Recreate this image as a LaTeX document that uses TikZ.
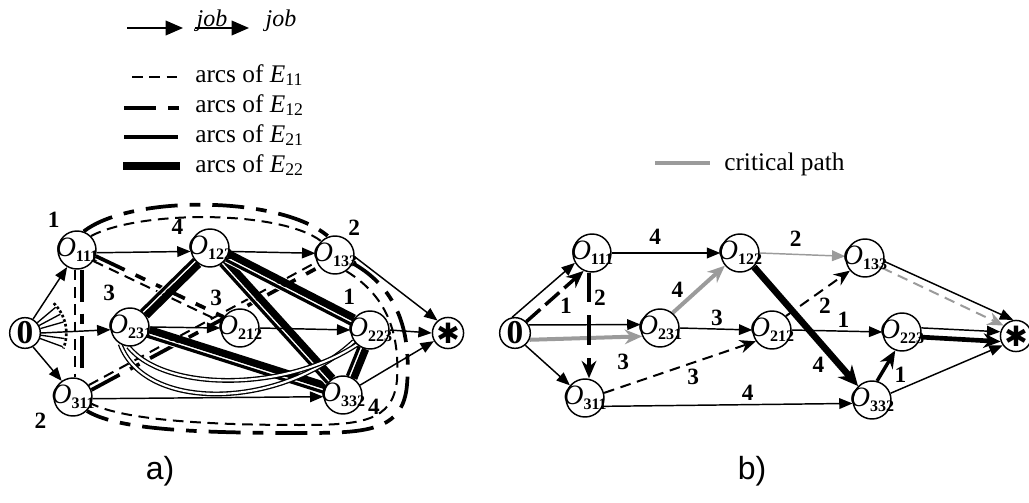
\documentclass[tikz,border=0pt]{standalone}
\usepackage{fontspec}
\setmainfont{Liberation Serif}
\newfontfamily\capfont{Liberation Sans}
\newfontfamily\symfont{DejaVu Sans}
\usetikzlibrary{arrows.meta,positioning}
\definecolor{crit}{HTML}{9B9B9B}
\pgfdeclarelayer{edges}
\pgfsetlayers{edges,main}
\newcommand{\opn}[1]{\makebox[0pt]{\fontsize{21}{21}\selectfont\textit{O}\raisebox{-3.5pt}{\fontsize{12}{12}\selectfont\bfseries #1}}}

\begin{document}
\begin{tikzpicture}[x=0.75pt, y=-0.75pt, font=\fontsize{16}{18}\selectfont,
  op/.style={draw, circle, line width=1.1pt, fill=white, minimum size=28.5pt, inner sep=0pt},
  src/.style={op, minimum size=23pt, font=\fontsize{25}{25}\selectfont\bfseries},
  snk/.style={op, minimum size=20pt, font=\symfont\fontsize{21}{21}\selectfont},
  num/.style={font=\fontsize{17.5}{17.5}\selectfont\bfseries, inner sep=1pt},
  job/.style={line width=1.1pt, -{Triangle[length=10pt,width=8pt]}},
  thk/.style={line width=2.6pt, -{Stealth[length=13pt,width=11pt]}},
  dsh/.style={line width=1.5pt, dash pattern=on 8pt off 5pt, -{Stealth[length=12pt,width=10pt]}},
  e11/.style={line width=1.5pt, dash pattern=on 8pt off 5pt},
  e12/.style={line width=2.8pt, dash pattern=on 24pt off 9pt on 8pt off 9pt},
  e21/.style={line width=2.4pt, preaction={draw, white, line width=4pt}},
  e22/.style={line width=5.5pt},
  dbl/.style={line width=1pt, double, double distance=1.6pt},
  leg/.style={anchor=west, inner sep=0pt, font=\fontsize{19}{21}\selectfont}]
  \useasboundingbox (0,0) rectangle (1029,503);

  % legend of part a)
  \coordinate (k1) at (127,28);
  \coordinate (k2) at (183,28);
  \coordinate (k3) at (195,28);
  \coordinate (k4) at (249,28);
  \draw[line width=1.1pt, -{Triangle[length=13pt,width=11pt]}] (k1) -- (k2);
  \node[font=\fontsize{18}{18}\selectfont\itshape] (jb1) at (212,21) {job};
  \node[font=\fontsize{18}{18}\selectfont\itshape] (jb2) at (281,21) {job};
  \draw[line width=1.1pt, -{Triangle[length=13pt,width=11pt]}] (k3) -- (k4);

  \coordinate (l1) at (132,77);  \coordinate (r1) at (180,77);
  \coordinate (l2) at (124,108); \coordinate (r2) at (179,108);
  \coordinate (l3) at (124,137); \coordinate (r3) at (178,137);
  \coordinate (l4) at (123,166); \coordinate (r4) at (180,166);
  \draw[e11] (l1) -- (r1);
  \draw[e12, dash pattern=on 24pt off 9pt on 8pt off 9pt] (l2) -- (r2);
  \draw[line width=3pt] (l3) -- (r3);
  \draw[line width=6pt] (l4) -- (r4);
  \node[leg] (t1) at (195,75) {arcs of \textit{E}\textsubscript{11}};
  \node[leg] (t2) at (195,105) {arcs of \textit{E}\textsubscript{12}};
  \node[leg] (t3) at (195,135) {arcs of \textit{E}\textsubscript{21}};
  \node[leg] (t4) at (195,165) {arcs of \textit{E}\textsubscript{22}};

  % legend of part b)
  \coordinate (c1) at (655,163);
  \coordinate (c2) at (710,163);
  \draw[crit, line width=3pt] (c1) -- (c2);
  \node[leg] (cp) at (724,164) {critical path};

  % part a)
  \node[src] (A0) at (25,333) {0};
  \node[op, label={[num,label distance=5pt]127:1}] (A11) at (77,250) {\opn{111}};
  \node[op, label={[num,label distance=7pt]210:2}] (A31) at (73,397) {\opn{311}};
  \node[op, label={[num,label distance=6pt]119:3}] (A23) at (130,327) {\opn{231}};
  \node[op, label={[num,label distance=6pt]155:4}] (A122) at (210,248) {\opn{122}};
  \node[op, label={[num,label distance=1pt]56:2}] (A13) at (335,255) {\opn{133}};
  \node[op, label={[num,label distance=5pt]128:3}] (A212) at (240,328) {\opn{212}};
  \node[op, label={[num,label distance=6pt]119:1}] (A22) at (370,330) {\opn{223}};
  \node[op, label={[num,label distance=3pt]-6:4}] (A33) at (343,395) {\opn{332}};
  \node[snk] (Astar) at (448,333) {✱};

  \begin{pgfonlayer}{edges}
  % arcs of E11 and E12
  \draw[e11] (A11.45) .. controls (140,210) and (280,210) .. (A13.135);
  \draw[e12] (A11.70) .. controls (130,195) and (280,195) .. (A13.110);
  \draw[e11] (A13.-55) .. controls (385,295) and (400,330) .. (397,380)
    .. controls (393,422) and (360,425) .. (300,425)
    .. controls (190,425) and (120,418) .. (A31.-20);
  \draw[e12] (A13.-25) .. controls (400,290) and (411,335) .. (407,385)
    .. controls (403,432) and (365,433) .. (300,433)
    .. controls (180,433) and (115,428) .. (A31.-45);
  \draw[e12] (A11.-18) -- (A212.146);
  \draw[e11] (A11.-34) -- (A212.162);
  \draw[e11] (A31.37) -- (A13.201);
  \draw[e12] (A31.21) -- (A13.217);
  \draw[e11] ([xshift=-1.5pt]A11.south) -- ([xshift=1.5pt]A31.north);
  \draw[e12] ([xshift=3.75pt]A11.south) -- ([xshift=6.75pt]A31.north);
  % arcs of E21 and E22
  \draw[e22] (A23.35) -- (A122.235);
  \draw[e22] (A122.-17) -- (A22.143);
  \draw[e22] (A122.-38) -- (A33.122);
  \draw[e22] (A23.-8) -- (A33.152);
  \draw[e22] (A22.-103) -- (A33.57);
  \draw[e21] (A23.55) -- (A122.215);
  \draw[e21] (A122.-37) -- (A22.163);
  \draw[e21] (A122.-58) -- (A33.142);
  \draw[e21] (A23.-28) -- (A33.172);
  \draw[e21] (A22.-123) -- (A33.77);
  \draw[dbl] (A23.240) .. controls (145,412) and (280,410) .. (A22.215);
  \draw[dbl] (A23.265) .. controls (165,392) and (285,392) .. (A22.228);
  % fan at the source
  \foreach \a in {40,28,16,-8,-20}
    \draw[line width=1pt] (A0.\a) -- ([shift={(\a:30pt)}]A0.center);
  \draw[line width=2pt, dash pattern=on 2pt off 1.6pt]
    ([shift={(46:31pt)}]A0.center) arc[start angle=46, end angle=-22, radius=31pt];
  % jobs
  \draw[job] (A0.60) -- (A11.240);
  \draw[job] (A0.east) -- (A23.188);
  \draw[job] (A0.-60) -- (A31.125);
  \draw[job] (A11.-8) -- (A122.190);
  \draw[job] (A122.-10) -- (A13.175);
  \draw[job] (A23.east) -- (A212.west);
  \draw[job] (A212.east) -- (A22.west);
  \draw[job] (A31.-5) -- (A33.185);
  \draw[job] (A13.-5) -- (Astar.130);
  \draw[job] (A22.east) -- (Astar.west);
  \draw[job] (A33.30) -- (Astar.210);
  \end{pgfonlayer}

  % part b)
  \node[src] (B0) at (515,333) {0};
  \node[op] (B111) at (592,253) {\opn{111}};
  \node[op] (B311) at (585,398) {\opn{311}};
  \node[op] (B231) at (660,328) {\opn{231}};
  \node[op] (B122) at (740,253) {\opn{122}};
  \node[op] (B212) at (772,330) {\opn{212}};
  \node[op] (B133) at (865,258) {\opn{133}};
  \node[op] (B223) at (902,332) {\opn{223}};
  \node[op] (B332) at (872,400) {\opn{332}};
  \node[snk] (Bstar) at (1016,336) {✱};

  \begin{pgfonlayer}{edges}
  \draw[job] (B0.100) -- (B111.210);
  \draw[thk, dash pattern=on 14pt off 5pt] (B0.45) -- (B111.245)
    node[num, pos=.5, shift={(11,10)}] {1};
  \draw[job] (B0.30) -- (B231.170);
  \draw[thk, crit, line width=3pt] (B0.-25) -- (B231.205)
    node[num, black, pos=.85, shift={(-2,25)}] {3};
  \draw[job] (B0.-50) -- (B311.140);
  \draw[thk, dash pattern=on 22pt off 10pt] ([xshift=-2.25pt]B111.south) -- ([xshift=3pt]B311.north)
    node[num, pos=.2, shift={(11,4)}] {2};
  \draw[job] (B111.east) -- (B122.west)
    node[num, pos=.4, shift={(0,-16)}] {4};
  \draw[thk, crit, line width=3pt] (B231.50) -- (B122.220)
    node[num, black, pos=.3, shift={(-11,-9)}] {4};
  \draw[job] (B231.east) -- (B212.west)
    node[num, pos=.5, shift={(1,-11)}] {3};
  \draw[dsh] (B311.15) -- (B212.215)
    node[num, pos=.58, shift={(1,14)}] {3};
  \draw[job] (B311.-25) -- (B332.190)
    node[num, pos=.58, shift={(0,-12)}] {4};
  \draw[job, crit] (B122.east) -- (B133.175)
    node[num, black, pos=.42, shift={(0,-16)}] {2};
  \draw[line width=5pt, -{Stealth[length=15pt,width=14pt]}] (B122.-45) -- (B332.135)
    node[num, pos=.63, shift={(-1,23)}] {4};
  \draw[dsh] (B212.45) -- (B133.220)
    node[num, pos=.5, shift={(7,12)}] {2};
  \draw[job] (B212.east) -- (B223.west)
    node[num, pos=.57, shift={(0,-11)}] {1};
  \draw[job] (B133.-10) -- (Bstar.100);
  \draw[dsh, crit] (B133.-30) -- (Bstar.140);
  \draw[job] (B223.12) -- (Bstar.165);
  \draw[thk, line width=3.5pt] (B223.-15) -- (Bstar.200);
  \draw[thk] (B332.75) -- (B223.250)
    node[num, pos=.3, shift={(18,3)}] {1};
  \draw[job] (B332.20) -- (Bstar.215);
  \end{pgfonlayer}

  % captions
  \node[font=\capfont\fontsize{24}{24}\selectfont] (capa) at (160,471) {a)};
  \node[font=\capfont\fontsize{24}{24}\selectfont] (capb) at (752,471) {b)};
\end{tikzpicture}
\end{document}
